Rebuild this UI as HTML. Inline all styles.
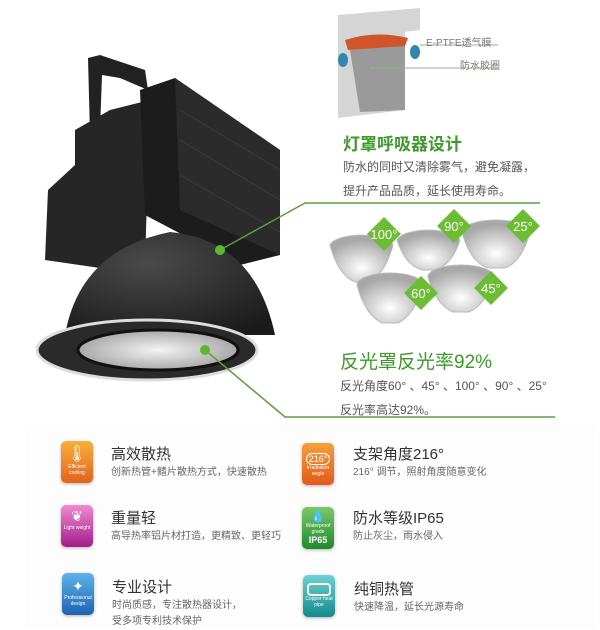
<!DOCTYPE html>
<html><head><meta charset="utf-8"><style>
body{margin:0;width:600px;height:629px;background:#fff;overflow:hidden;font-family:"Liberation Sans","Noto Sans CJK SC",sans-serif;position:relative}
.t{position:absolute;white-space:nowrap}
.g{color:#3d9a2b}
.ic{position:absolute;width:32px;height:42px;border-radius:5px;color:#fff;font-size:5px;text-align:center;box-shadow:0 1px 3px rgba(0,0,0,.3)}
.h{position:absolute;font-size:15px;line-height:16px;color:#333}
.s{position:absolute;font-size:10px;color:#666;line-height:16px}
</style></head><body>
<svg width="600" height="629" style="position:absolute;left:0;top:0">
<defs>
<radialGradient id="dome" cx="0.4" cy="0.3" r="0.8"><stop offset="0" stop-color="#4a4a4a"/><stop offset="1" stop-color="#1a1a1a"/></radialGradient>
<radialGradient id="ref" cx="0.5" cy="0.7" r="0.6"><stop offset="0" stop-color="#fff"/><stop offset="1" stop-color="#a8a8a8"/></radialGradient>
<radialGradient id="lens" cx="0.5" cy="0.5" r="0.6"><stop offset="0" stop-color="#f4f4f4"/><stop offset="1" stop-color="#9a9a9a"/></radialGradient>
</defs>
<rect x="25" y="425" width="570" height="204" fill="#fdfdfd"/>
<path d="M88 58 L100 55 L145 70 L148 90 L120 78 L102 75 L100 130 L90 135 Z" fill="#222"/>
<path d="M48 190 L75 165 L75 130 L110 110 L150 100 L145 265 L100 268 L45 260 Z" fill="#262626"/>
<path d="M140 90 L175 78 L280 150 L280 255 L240 265 L145 215 Z" fill="#1c1c1c"/>
<path d="M175 78 L280 150 L280 255 L180 210 Z" fill="#2b2b2b"/>
<g stroke="#3a3a3a" stroke-width="1">
<path d="M180 140 L280 200"/><path d="M180 175 L280 232"/><path d="M180 110 L280 170"/>
</g>
<path d="M65 335 Q80 250 170 232 Q255 240 275 335 Z" fill="url(#dome)"/>
<ellipse cx="147" cy="350" rx="110" ry="30" fill="#2a2a2a" stroke="#ddd" stroke-width="3"/>
<ellipse cx="158" cy="350" rx="80" ry="20" fill="url(#lens)" stroke="#111" stroke-width="3"/>
<path d="M338 15 L420 8 L420 30 L405 32 L405 110 L338 118 Z" fill="#d5d5d5"/>
<path d="M350 50 L405 45 L405 110 L360 112 Z" fill="#9a9a9a"/>
<path d="M345 40 Q375 30 408 38 L405 46 L348 50 Z" fill="#d0552a"/>
<ellipse cx="343" cy="60" rx="5" ry="7" fill="#2f86b0"/><ellipse cx="415" cy="52" rx="5" ry="7" fill="#2f86b0"/>
<line x1="420" y1="45" x2="498" y2="45" stroke="#8ab88a" stroke-width="1"/>
<line x1="370" y1="68" x2="498" y2="68" stroke="#8ab88a" stroke-width="1"/>
<polyline points="220,250 305,203 540,203" fill="none" stroke="#5a9e3e" stroke-width="1.5"/>
<circle cx="220" cy="250" r="5" fill="#5bb830"/>
<polyline points="205,350 285,417 555,417" fill="none" stroke="#5a9e3e" stroke-width="1.5"/>
<circle cx="205" cy="350" r="5" fill="#5bb830"/>
<g fill="url(#ref)" stroke="#bbb">
<path d="M330 245 A32 12 0 0 1 393 245 Q385 275 368 282 L355 282 Q338 275 330 245 Z"/>
<path d="M397 240 A32 12 0 0 1 460 240 Q452 265 435 270 L422 270 Q405 265 397 240 Z"/>
<path d="M462 232 A34 12 0 0 1 530 232 Q522 262 505 268 L488 268 Q470 262 462 232 Z"/>
<path d="M357 285 A33 12 0 0 1 423 285 Q415 315 398 323 L382 323 Q365 315 357 285 Z"/>
<path d="M428 277 A33 12 0 0 1 494 277 Q486 305 469 312 L453 312 Q436 305 428 277 Z"/>
</g>
<g fill="#6cbc34">
<rect x="372" y="222" width="24" height="24" transform="rotate(45 384 234)"/>
<rect x="442" y="214" width="24" height="24" transform="rotate(45 454 226)"/>
<rect x="511" y="214" width="24" height="24" transform="rotate(45 523 226)"/>
<rect x="409" y="281" width="24" height="24" transform="rotate(45 421 293)"/>
<rect x="479" y="276" width="24" height="24" transform="rotate(45 491 288)"/>
</g>
<g fill="#fff" font-size="13" font-family="Liberation Sans" text-anchor="middle">
<text x="384" y="239">100°</text><text x="454" y="231">90°</text><text x="523" y="231">25°</text><text x="421" y="298">60°</text><text x="491" y="293">45°</text>
</g>
</svg>
<div class="t" style="left:426px;top:34px;font-size:10px;color:#777">E-PTFE透气膜</div>
<div class="t" style="left:460px;top:57px;font-size:10px;color:#777">防水胶圈</div>
<div class="t g" style="left:343px;top:130px;font-size:17px;font-weight:bold">灯罩呼吸器设计</div>
<div class="t" style="left:343px;top:155px;font-size:12px;color:#555;line-height:24px">防水的同时又清除雾气，避免凝露，<br>提升产品品质，延长使用寿命。</div>
<div class="t g" style="left:340px;top:347px;font-size:19px">反光罩反光率92%</div>
<div class="t" style="left:340px;top:374px;font-size:12px;color:#555;line-height:24px">反光角度60° 、45° 、100° 、90° 、25°<br>反光率高达92%。</div>
<div class="ic" style="left:61px;top:441px;background:linear-gradient(#f6b13c,#e4621c)"><div style="font-size:16px;margin-top:3px">🌡</div>Efficient cooling</div>
<div class="h" style="left:111px;top:447px">高效散热</div><div class="s" style="left:111px;top:465px">创新热管+鳍片散热方式，快速散热</div>
<div class="ic" style="left:302px;top:443px;background:linear-gradient(#f3a23a,#e25a1c)"><div style="font-size:9px;margin-top:10px;border:1px solid #fff;border-radius:8px;margin-left:4px;margin-right:4px">216°</div>Irradiation angle</div>
<div class="h" style="left:353px;top:447px">支架角度216°</div><div class="s" style="left:353px;top:465px">216° 调节，照射角度随意变化</div>
<div class="ic" style="left:61px;top:505px;background:linear-gradient(#f08ad0,#a21d8a)"><div style="font-size:14px;margin-top:3px">❦</div>Light weight</div>
<div class="h" style="left:111px;top:511px">重量轻</div><div class="s" style="left:111px;top:529px">高导热率铝片材打造，更精致、更轻巧</div>
<div class="ic" style="left:302px;top:507px;background:linear-gradient(#7cc76a,#1f8a2e)"><div style="font-size:12px;margin-top:2px">💧</div>Waterproof grade<div style="font-size:9px;font-weight:bold">IP65</div></div>
<div class="h" style="left:353px;top:511px">防水等级IP65</div><div class="s" style="left:353px;top:529px">防止灰尘，雨水侵入</div>
<div class="ic" style="left:62px;top:573px;background:linear-gradient(#5eb4ea,#1e62b0)"><div style="font-size:14px;margin-top:5px">✦</div>Professional design</div>
<div class="h" style="left:112px;top:580px">专业设计</div><div class="s" style="left:112px;top:598px">时尚质感，专注散热器设计，<br>受多项专利技术保护</div>
<div class="ic" style="left:303px;top:575px;background:linear-gradient(#6fd2d2,#138a8e)"><div style="margin:8px 4px 0;height:9px;border:2px solid #fff;border-radius:4px"></div>Copper heat pipe</div>
<div class="h" style="left:354px;top:582px">纯铜热管</div><div class="s" style="left:354px;top:600px">快速降温，延长光源寿命</div>
</body></html>
